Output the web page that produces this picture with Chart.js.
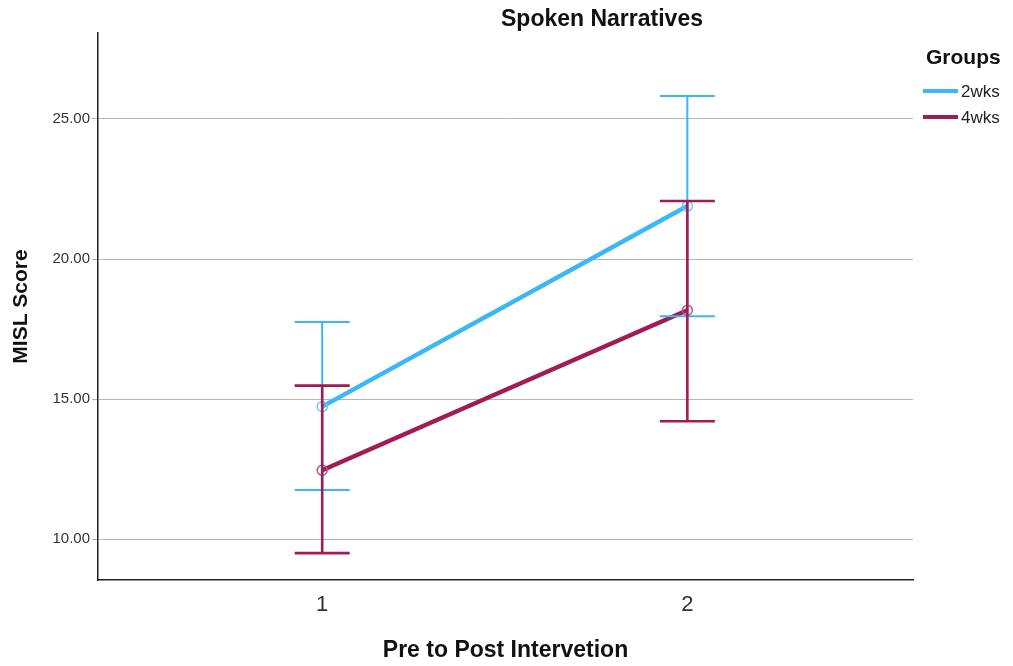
<!DOCTYPE html>
<html>
<head>
<meta charset="utf-8">
<script src="https://cdn.jsdelivr.net/npm/chart.js@4.4.1/dist/chart.umd.min.js"></script>
<style>
  html, body { margin: 0; padding: 0; background: #ffffff; }
  #wrap { width: 1013px; height: 666px; position: relative; }
</style>
</head>
<body>
<div id="wrap"><canvas id="c" width="1013" height="666"></canvas></div>
<script>
// ---- data ----
const categories = [1, 2];
const xTicks = [1, 2];
const yTicks = [10, 15, 20, 25];
const seriesNames = ['2wks', '4wks'];
const means2wks = [14.73, 21.89];
const means4wks = [12.46, 18.17];
const low2wks = [11.75, 17.96];
const high2wks = [17.75, 25.82];
const low4wks = [9.50, 14.21];
const high4wks = [15.48, 22.07];
const chartTitle = 'Spoken Narratives';
const legendTitle = 'Groups';
const xTitle = 'Pre to Post Intervetion';
const yTitle = 'MISL Score';

const BLUE = '#3bb6f6';
const MAROON = '#a11c52';

const errorBarPlugin = {
  id: 'errorBars',
  afterDatasetsDraw(chart) {
    const ctx = chart.ctx;
    const xs = chart.scales.x, ys = chart.scales.y;
    const sets = [
      { low: low2wks, high: high2wks, color: BLUE, width: 2 },
      { low: low4wks, high: high4wks, color: MAROON, width: 2.6 }
    ];
    ctx.save();
    sets.forEach(s => {
      ctx.strokeStyle = s.color;
      ctx.lineWidth = s.width;
      categories.forEach((c, i) => {
        const x = xs.getPixelForValue(c);
        const yl = ys.getPixelForValue(s.low[i]);
        const yh = ys.getPixelForValue(s.high[i]);
        const hw = 27.5;
        ctx.beginPath();
        ctx.moveTo(x, yl); ctx.lineTo(x, yh);
        ctx.moveTo(x - hw, yl); ctx.lineTo(x + hw, yl);
        ctx.moveTo(x - hw, yh); ctx.lineTo(x + hw, yh);
        ctx.stroke();
      });
    });
    ctx.restore();
  }
};

const annotationPlugin = {
  id: 'titleLegend',
  afterDraw(chart) {
    const ctx = chart.ctx;
    ctx.save();
    ctx.fillStyle = '#111';
    ctx.font = 'bold 23px "Liberation Sans", Arial, sans-serif';
    ctx.textAlign = 'center';
    ctx.textBaseline = 'middle';
    ctx.fillText(chartTitle, 602, 20);
    ctx.font = 'bold 21px "Liberation Sans", Arial, sans-serif';
    ctx.textAlign = 'left';
    ctx.fillText(legendTitle, 926, 58);
    const colors = [BLUE, MAROON];
    const ly = [91, 117];
    ctx.font = '17px "Liberation Sans", Arial, sans-serif';
    ctx.fillStyle = '#222';
    seriesNames.forEach((n, i) => {
      ctx.strokeStyle = colors[i];
      ctx.lineWidth = 4;
      ctx.beginPath();
      ctx.moveTo(923, ly[i]); ctx.lineTo(958, ly[i]);
      ctx.stroke();
      ctx.fillText(n, 961, ly[i] + 1);
    });
    ctx.restore();
  }
};

new Chart(document.getElementById('c'), {
  type: 'line',
  data: {
    datasets: [
      {
        label: seriesNames[0],
        data: categories.map((c, i) => ({ x: c, y: means2wks[i] })),
        borderColor: BLUE,
        borderWidth: 4.5,
        pointRadius: 5,
        pointBorderWidth: 1.5,
        pointBorderColor: '#72c8f3',
        pointBackgroundColor: 'rgba(0,0,0,0)',
        tension: 0
      },
      {
        label: seriesNames[1],
        data: categories.map((c, i) => ({ x: c, y: means4wks[i] })),
        borderColor: MAROON,
        borderWidth: 4.5,
        pointRadius: 5,
        pointBorderWidth: 1.5,
        pointBorderColor: '#b8547e',
        pointBackgroundColor: 'rgba(0,0,0,0)',
        tension: 0
      }
    ]
  },
  options: {
    responsive: false,
    animation: false,
    devicePixelRatio: 1,
    layout: { padding: { left: 0, top: 33, right: 100, bottom: 0 } },
    plugins: {
      legend: { display: false },
      title: { display: false },
      tooltip: { enabled: false }
    },
    scales: {
      x: {
        type: 'linear',
        min: 0.386,
        max: 2.618,
        afterBuildTicks: s => { s.ticks = xTicks.map(v => ({ value: v })); },
        afterFit: s => { s.height = 86; },
        grid: { display: false, drawTicks: false },
        border: { display: true, color: '#222', width: 1.5 },
        ticks: {
          color: '#333',
          padding: 12,
          font: { family: '"Liberation Sans Narrow", "Liberation Sans", Arial, sans-serif', size: 22 },
          callback: v => String(v)
        },
        title: {
          display: true,
          text: xTitle,
          color: '#111',
          font: { family: '"Liberation Sans", Arial, sans-serif', size: 23, weight: 'bold' },
          padding: { top: 0, bottom: 2 }
        }
      },
      y: {
        type: 'linear',
        min: 8.54,
        max: 28.07,
        afterBuildTicks: s => { s.ticks = yTicks.map(v => ({ value: v })); },
        afterFit: s => { s.width = 98; },
        grid: { color: '#b5b5b5', lineWidth: 1, drawTicks: true, tickLength: 6, tickColor: '#b5b5b5' },
        border: { display: true, color: '#222', width: 1.5 },
        ticks: {
          color: '#333',
          padding: 2,
          font: { family: '"Liberation Sans", Arial, sans-serif', size: 15 },
          callback: v => Number(v).toFixed(2)
        },
        title: {
          display: true,
          text: yTitle,
          color: '#111',
          font: { family: '"Liberation Sans", Arial, sans-serif', size: 21, weight: 'bold' },
          padding: { top: 9, bottom: 0 }
        }
      }
    }
  },
  plugins: [errorBarPlugin, annotationPlugin]
});
</script>
</body>
</html>
